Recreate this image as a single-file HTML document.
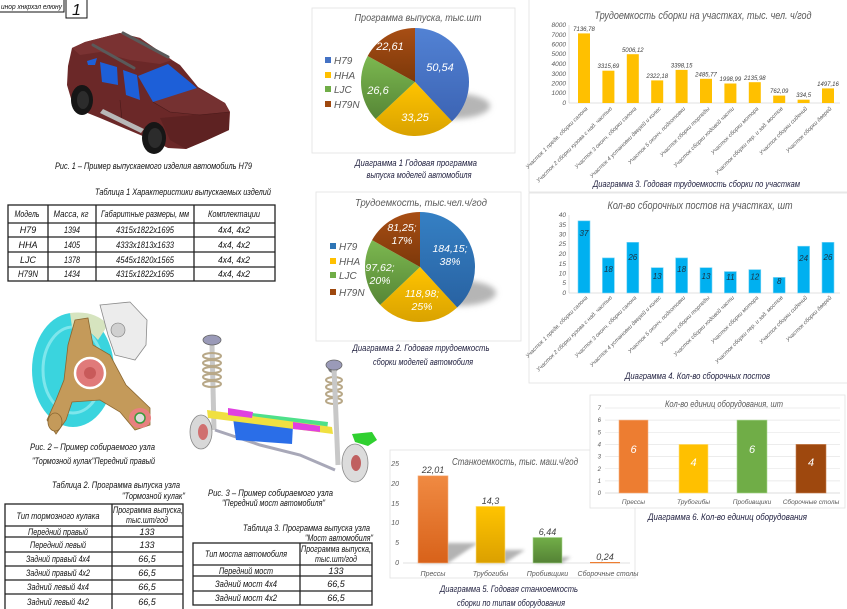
<!DOCTYPE html>
<html><head><meta charset="utf-8"><style>
html,body{margin:0;padding:0;background:#fff;}
svg{display:block;}
.t{font-family:"Liberation Sans","DejaVu Sans",sans-serif;font-style:italic;}
.g{fill:#595959;}
.k{fill:#111;}
.c{fill:#1c1c3c;}
</style></head><body>
<svg width="847" height="609" viewBox="0 0 847 609" xmlns="http://www.w3.org/2000/svg">
<defs>
<linearGradient id="pb" x1="0" y1="0" x2="0" y2="1"><stop offset="0" stop-color="#5282d4"/><stop offset="1" stop-color="#3c64b4"/></linearGradient>
<linearGradient id="pb2" x1="0" y1="0" x2="0" y2="1"><stop offset="0" stop-color="#3580c4"/><stop offset="1" stop-color="#2862a2"/></linearGradient>
<linearGradient id="py" x1="0" y1="0" x2="0" y2="1"><stop offset="0" stop-color="#ffc400"/><stop offset="1" stop-color="#d9a200"/></linearGradient>
<linearGradient id="pg" x1="0" y1="0" x2="0" y2="1"><stop offset="0" stop-color="#7cb850"/><stop offset="1" stop-color="#568636"/></linearGradient>
<linearGradient id="pr" x1="0" y1="0" x2="0" y2="1"><stop offset="0" stop-color="#a84e14"/><stop offset="1" stop-color="#7c380a"/></linearGradient>
<linearGradient id="bo" x1="0" y1="0" x2="0" y2="1"><stop offset="0" stop-color="#f08a42"/><stop offset="1" stop-color="#d8621a"/></linearGradient>
<linearGradient id="byl" x1="0" y1="0" x2="0" y2="1"><stop offset="0" stop-color="#ffc400"/><stop offset="1" stop-color="#dba000"/></linearGradient>
<linearGradient id="bgr" x1="0" y1="0" x2="0" y2="1"><stop offset="0" stop-color="#72ae48"/><stop offset="1" stop-color="#548235"/></linearGradient>
<filter id="bl" x="-30%" y="-50%" width="160%" height="200%"><feGaussianBlur stdDeviation="3"/></filter>
<filter id="bl2" x="-30%" y="-50%" width="160%" height="200%"><feGaussianBlur stdDeviation="1.5"/></filter>
</defs>

<!-- title block -->
<rect x="-1" y="-1" width="65" height="13" fill="#fff" stroke="#111" stroke-width="1"/>
<text class="t k" x="1" y="9" font-size="7.5" textLength="61" lengthAdjust="spacingAndGlyphs">инор хнкрхэл елюну</text>
<rect x="66" y="-1" width="21" height="19" fill="#fff" stroke="#111" stroke-width="1"/>
<text class="t k" x="76.5" y="15" font-size="16" text-anchor="middle">1</text>

<!-- car -->
<g>
<polygon points="68,66 72,48 85,42 120,33 140,38 172,60 180,65 198,87 225,103 230,112 229,130 205,141 186,149 168,148 145,137 100,118 85,112 72,102 67,85" fill="#6b2828"/>
<polygon points="72,48 85,42 120,33 140,38 172,60 160,64 130,60 100,52 80,55" fill="#7a3232"/>
<polygon points="153,102 197,88 225,103 230,112 200,115 170,112" fill="#753131"/>
<polygon points="160,118 229,112 229,130 205,141 186,149 170,140" fill="#5e2222"/>
<polyline points="153,102 170,112 200,115 229,112" fill="none" stroke="#4a1a1a" stroke-width="0.6"/>
<line x1="120" y1="100" x2="122" y2="120" stroke="#4a1a1a" stroke-width="0.6"/>
<polygon points="138,76 168,64 197,88 153,102" fill="#1d5fd8"/>
<polygon points="100,62 117,67 118,85 102,82" fill="#1d5fd8"/>
<polygon points="123,70 137,75 140,100 126,95" fill="#1d5fd8"/>
<polygon points="87,61 97,58 95,65 88,65" fill="#1d5fd8"/>
<line x1="93" y1="45" x2="134" y2="68" stroke="#5a5a5a" stroke-width="3" stroke-linecap="round"/>
<line x1="123" y1="33" x2="168" y2="57" stroke="#5a5a5a" stroke-width="3" stroke-linecap="round"/>
<polygon points="100,113 141,133 144,129 103,109" fill="#b8b8b8"/>
<ellipse cx="82" cy="100" rx="11" ry="15" fill="#161616"/>
<ellipse cx="154" cy="138" rx="12" ry="16" fill="#161616"/>
<ellipse cx="83" cy="100" rx="6" ry="9" fill="#2c2c2c"/>
<ellipse cx="155" cy="138" rx="7" ry="10" fill="#2c2c2c"/>
</g>
<text class="t k" x="55" y="169" font-size="9.5" textLength="197" lengthAdjust="spacingAndGlyphs">Рис. 1 – Пример выпускаемого изделия автомобиль Н79</text>
<text class="t k" x="95" y="195" font-size="9.5" textLength="176" lengthAdjust="spacingAndGlyphs">Таблица 1 Характеристики выпускаемых изделий</text>

<!-- table 1 -->
<g stroke="#222" stroke-width="1.3" fill="none">
<rect x="8" y="205" width="267" height="76"/>
<line x1="8" y1="223" x2="275" y2="223"/><line x1="8" y1="237" x2="275" y2="237"/><line x1="8" y1="252" x2="275" y2="252"/><line x1="8" y1="267" x2="275" y2="267"/>
<line x1="48" y1="205" x2="48" y2="281"/><line x1="96" y1="205" x2="96" y2="281"/><line x1="194" y1="205" x2="194" y2="281"/>
</g>
<g class="t k" font-size="9" text-anchor="middle">
<text x="27" y="217" textLength="25" lengthAdjust="spacingAndGlyphs">Модель</text>
<text x="71" y="217" textLength="35" lengthAdjust="spacingAndGlyphs">Масса, кг</text>
<text x="145" y="217" textLength="88" lengthAdjust="spacingAndGlyphs">Габаритные размеры, мм</text>
<text x="234" y="217" textLength="52" lengthAdjust="spacingAndGlyphs">Комплектации</text>
<text x="28" y="233">H79</text><text x="72" y="233" textLength="16" lengthAdjust="spacingAndGlyphs">1394</text><text x="145" y="233" textLength="58" lengthAdjust="spacingAndGlyphs">4315х1822х1695</text><text x="234" y="233" textLength="32" lengthAdjust="spacingAndGlyphs">4х4, 4х2</text>
<text x="28" y="248">HHA</text><text x="72" y="248" textLength="16" lengthAdjust="spacingAndGlyphs">1405</text><text x="145" y="248" textLength="58" lengthAdjust="spacingAndGlyphs">4333х1813х1633</text><text x="234" y="248" textLength="32" lengthAdjust="spacingAndGlyphs">4х4, 4х2</text>
<text x="28" y="263">LJC</text><text x="72" y="263" textLength="16" lengthAdjust="spacingAndGlyphs">1378</text><text x="145" y="263" textLength="58" lengthAdjust="spacingAndGlyphs">4545х1820х1565</text><text x="234" y="263" textLength="32" lengthAdjust="spacingAndGlyphs">4х4, 4х2</text>
<text x="28" y="277" textLength="20" lengthAdjust="spacingAndGlyphs">H79N</text><text x="72" y="277" textLength="16" lengthAdjust="spacingAndGlyphs">1434</text><text x="145" y="277" textLength="58" lengthAdjust="spacingAndGlyphs">4315х1822х1695</text><text x="234" y="277" textLength="32" lengthAdjust="spacingAndGlyphs">4х4, 4х2</text>
</g>

<!-- pie 1 -->
<rect x="312" y="8" width="203" height="145" fill="#fff" stroke="#e2e2e2" stroke-width="0.8"/>
<text class="t g" x="418" y="21" font-size="10.5" text-anchor="middle" textLength="127" lengthAdjust="spacingAndGlyphs">Программа  выпуска,  тыс.шт</text>
<ellipse cx="450" cy="106" rx="40" ry="13" fill="#b5b5b5" filter="url(#bl)"/>
<path d="M415,82 L415,28 A54,54 0 0,1 451.96,121.37 Z" fill="url(#pb)"/>
<path d="M415,82 L451.96,121.37 A54,54 0 0,1 375.63,118.96 Z" fill="url(#py)"/>
<path d="M415,82 L375.63,118.96 A54,54 0 0,1 367.68,55.98 Z" fill="url(#pg)"/>
<path d="M415,82 L367.68,55.98 A54,54 0 0,1 415,28 Z" fill="url(#pr)"/>
<g class="t" fill="#fff" font-size="11" text-anchor="middle">
<text x="440" y="71">50,54</text><text x="415" y="121">33,25</text><text x="378" y="94">26,6</text><text x="390" y="50">22,61</text>
</g>
<g class="t g" font-size="10">
<rect x="325" y="57" width="6" height="6" fill="#4472c4"/><text x="334" y="64">H79</text>
<rect x="325" y="72" width="6" height="6" fill="#ffc000"/><text x="334" y="79">HHA</text>
<rect x="325" y="86" width="6" height="6" fill="#70ad47"/><text x="334" y="93">LJC</text>
<rect x="325" y="101" width="6" height="6" fill="#9e480e"/><text x="334" y="108">H79N</text>
</g>
<text class="t c" x="416" y="166" font-size="9.5" text-anchor="middle" textLength="122" lengthAdjust="spacingAndGlyphs">Диаграмма 1    Годовая программа</text>
<text class="t c" x="419" y="178" font-size="9.5" text-anchor="middle" textLength="105" lengthAdjust="spacingAndGlyphs">выпуска моделей автомобиля</text>

<!-- pie 2 -->
<rect x="316" y="192" width="205" height="149" fill="#fff" stroke="#e2e2e2" stroke-width="0.8"/>
<text class="t g" x="421" y="206" font-size="10.5" text-anchor="middle" textLength="132" lengthAdjust="spacingAndGlyphs">Трудоемкость,   тыс.чел.ч/год</text>
<ellipse cx="456" cy="293" rx="40" ry="13" fill="#b5b5b5" filter="url(#bl)"/>
<path d="M420,267 L420,212 A55,55 0 0,1 457.16,307.55 Z" fill="url(#pb2)"/>
<path d="M420,267 L457.16,307.55 A55,55 0 0,1 380.17,304.93 Z" fill="url(#py)"/>
<path d="M420,267 L380.17,304.93 A55,55 0 0,1 372.03,240.08 Z" fill="url(#pg)"/>
<path d="M420,267 L372.03,240.08 A55,55 0 0,1 420,212 Z" fill="url(#pr)"/>
<g class="t" fill="#fff" font-size="10.5" text-anchor="middle">
<text x="450" y="252">184,15;</text><text x="450" y="265">38%</text>
<text x="422" y="297">118,98;</text><text x="422" y="310">25%</text>
<text x="380" y="271">97,62;</text><text x="380" y="284">20%</text>
<text x="402" y="231">81,25;</text><text x="402" y="244">17%</text>
</g>
<g class="t g" font-size="10">
<rect x="330" y="243" width="6" height="6" fill="#2e75b6"/><text x="339" y="250">H79</text>
<rect x="330" y="258" width="6" height="6" fill="#ffc000"/><text x="339" y="265">HHA</text>
<rect x="330" y="272" width="6" height="6" fill="#70ad47"/><text x="339" y="279">LJC</text>
<rect x="330" y="289" width="6" height="6" fill="#9e480e"/><text x="339" y="296">H79N</text>
</g>
<text class="t c" x="421" y="351" font-size="9.5" text-anchor="middle" textLength="137" lengthAdjust="spacingAndGlyphs">Диаграмма 2.    Годовая трудоемкость</text>
<text class="t c" x="423" y="365" font-size="9.5" text-anchor="middle" textLength="100" lengthAdjust="spacingAndGlyphs">сборки моделей автомобиля</text>
<ellipse cx="333" cy="368" rx="5" ry="5" fill="#777"/><rect x="329" y="364" width="8" height="3" fill="#3a8a3a"/>

<!-- chart 3 -->
<rect x="529" y="-1" width="320" height="193" fill="#fff" stroke="#e2e2e2" stroke-width="0.8"/>
<text class="t g" x="703" y="19" font-size="11" text-anchor="middle" textLength="217" lengthAdjust="spacingAndGlyphs">Трудоемкость  сборки  на  участках,  тыс.  чел.  ч/год</text>
<g stroke="#d9d9d9" stroke-width="0.8"><line x1="569" y1="25" x2="569" y2="103"/><line x1="569" y1="103" x2="840" y2="103"/></g>
<g class="t g" font-size="6.5" text-anchor="end">
<text x="566" y="27">8000</text><text x="566" y="37">7000</text><text x="566" y="46.5">6000</text><text x="566" y="56">5000</text><text x="566" y="66">4000</text><text x="566" y="76">3000</text><text x="566" y="85.5">2000</text><text x="566" y="95">1000</text><text x="566" y="105">0</text>
</g>
<g fill="#ffc000">
<rect x="578" y="33.4" width="12" height="69.6"/><rect x="602.4" y="70.7" width="12" height="32.3"/><rect x="626.8" y="54.2" width="12" height="48.8"/><rect x="651.2" y="80.4" width="12" height="22.6"/><rect x="675.6" y="69.9" width="12" height="33.1"/><rect x="700" y="78.8" width="12" height="24.2"/><rect x="724.4" y="83.5" width="12" height="19.5"/><rect x="748.8" y="82.2" width="12" height="20.8"/><rect x="773.2" y="95.6" width="12" height="7.4"/><rect x="797.6" y="99.7" width="12" height="3.3"/><rect x="822" y="88.4" width="12" height="14.6"/>
</g>
<g class="t" fill="#404040" font-size="6" text-anchor="middle">
<text x="584" y="31">7136,78</text><text x="608.4" y="68">3315,69</text><text x="632.8" y="52">5006,12</text><text x="657.2" y="78">2322,18</text><text x="681.6" y="67.5">3398,15</text><text x="706" y="76.5">2485,77</text><text x="730.4" y="81">1998,99</text><text x="754.8" y="80">2135,98</text><text x="779.2" y="93">762,09</text><text x="803.6" y="97">334,5</text><text x="828" y="86">1497,16</text>
</g>
<g class="t g" font-size="5.6" text-anchor="end">
<text transform="translate(588,109) rotate(-45)">Участок 1 предв. сборки салона</text>
<text transform="translate(612.4,109) rotate(-45)">Участок 2 сборки кузова с над. частью</text>
<text transform="translate(636.8,109) rotate(-45)">Участок 3 оконч. сборки салона</text>
<text transform="translate(661.2,109) rotate(-45)">Участок 4 установки дверей и колес</text>
<text transform="translate(685.6,109) rotate(-45)">Участок 5 оконч. подготовки</text>
<text transform="translate(710,109) rotate(-45)">Участок сборки торпеды</text>
<text transform="translate(734.4,109) rotate(-45)">Участок сборки ходовой части</text>
<text transform="translate(758.8,109) rotate(-45)">Участок сборки мотора</text>
<text transform="translate(783.2,109) rotate(-45)">Участок сборки пер. и зад. мостов</text>
<text transform="translate(807.6,109) rotate(-45)">Участок сборки сидений</text>
<text transform="translate(832,109) rotate(-45)">Участок сборки дверей</text>
</g>
<text class="t c" x="593" y="187" font-size="9.5" textLength="207" lengthAdjust="spacingAndGlyphs">Диаграмма 3.    Годовая трудоемкость сборки по участкам</text>

<!-- chart 4 -->
<rect x="529" y="193" width="320" height="190" fill="#fff" stroke="#e2e2e2" stroke-width="0.8"/>
<text class="t g" x="700" y="209" font-size="11" text-anchor="middle" textLength="185" lengthAdjust="spacingAndGlyphs">Кол-во  сборочных  постов  на  участках,  шт</text>
<g stroke="#d9d9d9" stroke-width="0.8"><line x1="569" y1="215" x2="569" y2="293"/><line x1="569" y1="293" x2="840" y2="293"/></g>
<g class="t g" font-size="6.5" text-anchor="end">
<text x="566" y="217">40</text><text x="566" y="227">35</text><text x="566" y="236.5">30</text><text x="566" y="246">25</text><text x="566" y="256">20</text><text x="566" y="266">15</text><text x="566" y="275.5">10</text><text x="566" y="285">5</text><text x="566" y="295">0</text>
</g>
<g fill="#00b0f0" stroke="#7fd6f6" stroke-width="0.6">
<rect x="578" y="220.85" width="12" height="72.15"/><rect x="602.4" y="257.9" width="12" height="35.1"/><rect x="626.8" y="242.3" width="12" height="50.7"/><rect x="651.2" y="267.65" width="12" height="25.35"/><rect x="675.6" y="257.9" width="12" height="35.1"/><rect x="700" y="267.65" width="12" height="25.35"/><rect x="724.4" y="271.55" width="12" height="21.45"/><rect x="748.8" y="269.6" width="12" height="23.4"/><rect x="773.2" y="277.4" width="12" height="15.6"/><rect x="797.6" y="246.2" width="12" height="46.8"/><rect x="822" y="242.3" width="12" height="50.7"/>
</g>
<g class="t" fill="#1a3040" font-size="8" text-anchor="middle">
<text x="584" y="236">37</text><text x="608.4" y="272">18</text><text x="632.8" y="260">26</text><text x="657.2" y="279">13</text><text x="681.6" y="272">18</text><text x="706" y="279">13</text><text x="730.4" y="280">11</text><text x="754.8" y="279.5">12</text><text x="779.2" y="284">8</text><text x="803.6" y="261">24</text><text x="828" y="260">26</text>
</g>
<g class="t g" font-size="5.6" text-anchor="end">
<text transform="translate(588,298) rotate(-45)">Участок 1 предв. сборки салона</text>
<text transform="translate(612.4,298) rotate(-45)">Участок 2 сборки кузова с над. частью</text>
<text transform="translate(636.8,298) rotate(-45)">Участок 3 оконч. сборки салона</text>
<text transform="translate(661.2,298) rotate(-45)">Участок 4 установки дверей и колес</text>
<text transform="translate(685.6,298) rotate(-45)">Участок 5 оконч. подготовки</text>
<text transform="translate(710,298) rotate(-45)">Участок сборки торпеды</text>
<text transform="translate(734.4,298) rotate(-45)">Участок сборки ходовой части</text>
<text transform="translate(758.8,298) rotate(-45)">Участок сборки мотора</text>
<text transform="translate(783.2,298) rotate(-45)">Участок сборки пер. и зад. мостов</text>
<text transform="translate(807.6,298) rotate(-45)">Участок сборки сидений</text>
<text transform="translate(832,298) rotate(-45)">Участок сборки дверей</text>
</g>
<text class="t c" x="625" y="379" font-size="9.5" textLength="145" lengthAdjust="spacingAndGlyphs">Диаграмма 4.    Кол-во сборочных постов</text>

<!-- knuckle (fig 2) -->
<g>
<ellipse cx="73" cy="370" rx="41" ry="57" fill="#3ad4de"/>
<ellipse cx="73" cy="370" rx="30" ry="43" fill="none" stroke="#7ee6ec" stroke-width="3"/>
<path d="M70,313 Q95,310 108,325 L98,340 Q85,325 72,327 Z" fill="#d6e4bf"/>
<path d="M100,305 L130,302 L147,320 L146,345 L135,360 L115,355 L108,335 Z" fill="#ececec" stroke="#8a8a8a" stroke-width="0.8"/>
<circle cx="118" cy="330" r="7" fill="#d0d0d0" stroke="#777" stroke-width="0.6"/>
<polygon points="75,320 88,318 93,345 110,355 126,385 150,408 150,425 135,430 120,412 100,400 72,402 66,420 56,434 47,420 56,400 64,380 68,345" fill="#c49a5a" stroke="#8a6630" stroke-width="0.8"/>
<circle cx="90" cy="373" r="15" fill="#e07a7a" stroke="#fff" stroke-width="2.5"/>
<circle cx="90" cy="373" r="6" fill="#c85a5a"/>
<ellipse cx="140" cy="418" rx="11" ry="10" fill="#e88080"/><circle cx="140" cy="418" r="5" fill="#ddd" stroke="#3a9a3a" stroke-width="1.5"/>
<ellipse cx="55" cy="422" rx="7" ry="9" fill="#c49a5a" stroke="#8a6630" stroke-width="0.8"/>
</g>
<text class="t k" x="30" y="450" font-size="9.5" textLength="125" lengthAdjust="spacingAndGlyphs">Рис. 2 – Пример собираемого  узла</text>
<text class="t k" x="32" y="464" font-size="9.5" textLength="123" lengthAdjust="spacingAndGlyphs">"Тормозной кулак"Передний правый</text>

<!-- suspension (fig 3) -->
<g>
<line x1="212" y1="345" x2="214" y2="430" stroke="#c8c8c8" stroke-width="5"/>
<g stroke="#b8a888" stroke-width="2" fill="none">
<ellipse cx="212" cy="356" rx="9" ry="3"/><ellipse cx="212" cy="363" rx="9" ry="3"/><ellipse cx="212" cy="370" rx="9" ry="3"/><ellipse cx="212" cy="377" rx="9" ry="3"/><ellipse cx="212" cy="384" rx="9" ry="3"/>
<ellipse cx="334" cy="380" rx="8" ry="3"/><ellipse cx="334" cy="387" rx="8" ry="3"/><ellipse cx="334" cy="394" rx="8" ry="3"/><ellipse cx="334" cy="401" rx="8" ry="3"/>
</g>
<ellipse cx="212" cy="340" rx="9" ry="5" fill="#9a9ab8" stroke="#666" stroke-width="0.8"/>
<line x1="334" y1="368" x2="338" y2="465" stroke="#c8c8c8" stroke-width="5"/>
<ellipse cx="334" cy="365" rx="8" ry="5" fill="#9a9ab8" stroke="#666" stroke-width="0.8"/>
<polyline points="215,430 260,445 300,455 335,470" fill="none" stroke="#a8a8b8" stroke-width="3"/>
<polygon points="233,418 293,425 292,444 236,440" fill="#2a6ee8"/>
<polygon points="252,413 328,422 327,430 253,420" fill="#4ee08a"/>
<polygon points="207,410 332,427 333,434 208,418" fill="#f0e040"/>
<polygon points="228,408 253,412 252,418 228,415" fill="#e040e0"/>
<polygon points="293,422 320,426 320,432 293,429" fill="#e040e0"/>
<ellipse cx="201" cy="432" rx="11" ry="17" fill="#d8d8d8" stroke="#888" stroke-width="0.8"/>
<ellipse cx="203" cy="432" rx="5" ry="8" fill="#d07070"/>
<ellipse cx="355" cy="463" rx="13" ry="19" fill="#dcdcdc" stroke="#888" stroke-width="0.8"/>
<ellipse cx="356" cy="463" rx="5" ry="8" fill="#c06060"/>
<polygon points="352,434 372,432 377,440 368,446 355,442" fill="#30d030"/>
</g>
<text class="t k" x="208" y="496" font-size="9.5" textLength="125" lengthAdjust="spacingAndGlyphs">Рис. 3 – Пример собираемого  узла</text>
<text class="t k" x="222" y="506" font-size="9.5" textLength="103" lengthAdjust="spacingAndGlyphs">"Передний мост автомобиля"</text>

<!-- table 2 -->
<text class="t k" x="52" y="488" font-size="9.5" textLength="128" lengthAdjust="spacingAndGlyphs">Таблица 2. Программа выпуска узла</text>
<text class="t k" x="122" y="499" font-size="9.5" textLength="63" lengthAdjust="spacingAndGlyphs">"Тормозной кулак"</text>
<g stroke="#222" stroke-width="1.3" fill="none">
<rect x="5" y="504" width="178" height="106"/>
<line x1="112" y1="504" x2="112" y2="610"/>
<line x1="5" y1="526" x2="183" y2="526"/><line x1="5" y1="537" x2="183" y2="537"/><line x1="5" y1="552" x2="183" y2="552"/><line x1="5" y1="566" x2="183" y2="566"/><line x1="5" y1="580" x2="183" y2="580"/><line x1="5" y1="594" x2="183" y2="594"/>
</g>
<g class="t k" font-size="9" text-anchor="middle">
<text x="58" y="519" textLength="83" lengthAdjust="spacingAndGlyphs">Тип тормозного кулака</text>
<text x="148" y="513" textLength="70" lengthAdjust="spacingAndGlyphs">Программа выпуска,</text>
<text x="147" y="523" textLength="42" lengthAdjust="spacingAndGlyphs">тыс.шт/год</text>
<text x="58" y="535" textLength="60" lengthAdjust="spacingAndGlyphs">Передний правый</text><text x="147" y="535">133</text>
<text x="58" y="548" textLength="56" lengthAdjust="spacingAndGlyphs">Передний левый</text><text x="147" y="548">133</text>
<text x="58" y="562" textLength="64" lengthAdjust="spacingAndGlyphs">Задний правый 4х4</text><text x="147" y="562">66,5</text>
<text x="58" y="576" textLength="64" lengthAdjust="spacingAndGlyphs">Задний правый 4х2</text><text x="147" y="576">66,5</text>
<text x="58" y="590" textLength="62" lengthAdjust="spacingAndGlyphs">Задний левый  4х4</text><text x="147" y="590">66,5</text>
<text x="58" y="605" textLength="62" lengthAdjust="spacingAndGlyphs">Задний левый  4х2</text><text x="147" y="605">66,5</text>
</g>

<!-- table 3 -->
<text class="t k" x="243" y="531" font-size="9.5" textLength="127" lengthAdjust="spacingAndGlyphs">Таблица 3. Программа выпуска узла</text>
<text class="t k" x="305" y="541" font-size="9.5" textLength="68" lengthAdjust="spacingAndGlyphs">"Мост автомобиля"</text>
<g stroke="#222" stroke-width="1.3" fill="none">
<rect x="193" y="543" width="179" height="62"/>
<line x1="300" y1="543" x2="300" y2="605"/>
<line x1="193" y1="565" x2="372" y2="565"/><line x1="193" y1="576" x2="372" y2="576"/><line x1="193" y1="591" x2="372" y2="591"/>
</g>
<g class="t k" font-size="9" text-anchor="middle">
<text x="246" y="557" textLength="82" lengthAdjust="spacingAndGlyphs">Тип моста автомобиля</text>
<text x="336" y="552" textLength="70" lengthAdjust="spacingAndGlyphs">Программа выпуска,</text>
<text x="336" y="562" textLength="42" lengthAdjust="spacingAndGlyphs">тыс.шт/год</text>
<text x="246" y="574" textLength="54" lengthAdjust="spacingAndGlyphs">Передний мост</text><text x="336" y="574">133</text>
<text x="246" y="587" textLength="62" lengthAdjust="spacingAndGlyphs">Задний мост  4х4</text><text x="336" y="587">66,5</text>
<text x="246" y="601" textLength="62" lengthAdjust="spacingAndGlyphs">Задний мост  4х2</text><text x="336" y="601">66,5</text>
</g>

<!-- chart 5 -->
<rect x="390" y="450" width="245" height="128" fill="#fff" stroke="#e2e2e2" stroke-width="0.8"/>
<text class="t g" x="515" y="465" font-size="10" text-anchor="middle" textLength="126" lengthAdjust="spacingAndGlyphs">Станкоемкость,  тыс.  маш.ч/год</text>
<g stroke="#d9d9d9" stroke-width="0.8"><line x1="403" y1="563" x2="630" y2="563"/></g>
<g class="t g" font-size="7" text-anchor="end">
<text x="399" y="466">25</text><text x="399" y="486">20</text><text x="399" y="506">15</text><text x="399" y="525">10</text><text x="399" y="545">5</text><text x="399" y="565">0</text>
</g>
<g fill="#9a9a9a" opacity="0.75" filter="url(#bl2)">
<polygon points="418,563 448,563 478,543 448,543"/>
<polygon points="476,563 505,563 525,550 496,550"/>
<polygon points="533,563 562,563 571,557 542,557"/>
</g>
<rect x="418" y="475.8" width="30" height="87.2" fill="url(#bo)" stroke="#f5b080" stroke-width="0.6"/>
<rect x="476" y="506.4" width="29" height="56.6" fill="url(#byl)" stroke="#ffe080" stroke-width="0.6"/>
<rect x="533" y="537.5" width="29" height="25.5" fill="url(#bgr)" stroke="#a8d890" stroke-width="0.6"/>
<rect x="590" y="562" width="30" height="1.2" fill="#ed7d31"/>
<g class="t" fill="#404040" font-size="9" text-anchor="middle">
<text x="433" y="473">22,01</text><text x="490.5" y="504">14,3</text><text x="547.5" y="535">6,44</text><text x="605" y="560">0,24</text>
</g>
<g class="t g" font-size="7" text-anchor="middle">
<text x="433" y="576">Прессы</text><text x="490.5" y="576">Трубогибы</text><text x="547.5" y="576">Пробивщики</text><text x="608" y="576">Сборочные столы</text>
</g>
<text class="t c" x="509" y="592" font-size="9.5" text-anchor="middle" textLength="138" lengthAdjust="spacingAndGlyphs">Диаграмма 5.    Годовая станкоемкость</text>
<text class="t c" x="511" y="606" font-size="9.5" text-anchor="middle" textLength="108" lengthAdjust="spacingAndGlyphs">сборки по типам оборудования</text>

<!-- chart 6 -->
<rect x="590" y="395" width="255" height="113" fill="#fff" stroke="#e2e2e2" stroke-width="0.8"/>
<text class="t g" x="724" y="407" font-size="9.5" text-anchor="middle" textLength="118" lengthAdjust="spacingAndGlyphs">Кол-во  единиц  оборудования,  шт</text>
<g stroke="#e6e6e6" stroke-width="0.7">
<line x1="605" y1="408" x2="840" y2="408"/><line x1="605" y1="420.1" x2="840" y2="420.1"/><line x1="605" y1="432.3" x2="840" y2="432.3"/><line x1="605" y1="444.4" x2="840" y2="444.4"/><line x1="605" y1="456.6" x2="840" y2="456.6"/><line x1="605" y1="468.7" x2="840" y2="468.7"/><line x1="605" y1="480.9" x2="840" y2="480.9"/>
</g>
<line x1="605" y1="493" x2="840" y2="493" stroke="#d0d0d0" stroke-width="0.8"/>
<g class="t g" font-size="6" text-anchor="end">
<text x="601" y="410">7</text><text x="601" y="422">6</text><text x="601" y="434.5">5</text><text x="601" y="446.5">4</text><text x="601" y="458.5">3</text><text x="601" y="471">2</text><text x="601" y="483">1</text><text x="601" y="495">0</text>
</g>
<rect x="619" y="420.1" width="29" height="72.9" fill="#ed7d31" stroke="#f5b080" stroke-width="0.6"/>
<rect x="679" y="444.4" width="29" height="48.6" fill="#ffc000" stroke="#ffe080" stroke-width="0.6"/>
<rect x="737" y="420.1" width="30" height="72.9" fill="#70ad47" stroke="#a8d890" stroke-width="0.6"/>
<rect x="796" y="444.4" width="30" height="48.6" fill="#9e480e" stroke="#c88050" stroke-width="0.6"/>
<g class="t" fill="#fff" font-size="11" text-anchor="middle">
<text x="633.5" y="453">6</text><text x="693.5" y="466">4</text><text x="752" y="453">6</text><text x="811" y="466">4</text>
</g>
<g class="t g" font-size="6.5" text-anchor="middle">
<text x="633.5" y="504">Прессы</text><text x="693.5" y="504">Трубогибы</text><text x="752" y="504">Пробивщики</text><text x="811" y="504">Сборочные столы</text>
</g>
<text class="t c" x="648" y="520" font-size="9.5" textLength="159" lengthAdjust="spacingAndGlyphs">Диаграмма 6.    Кол-во единиц оборудования</text>
</svg>
</body></html>
